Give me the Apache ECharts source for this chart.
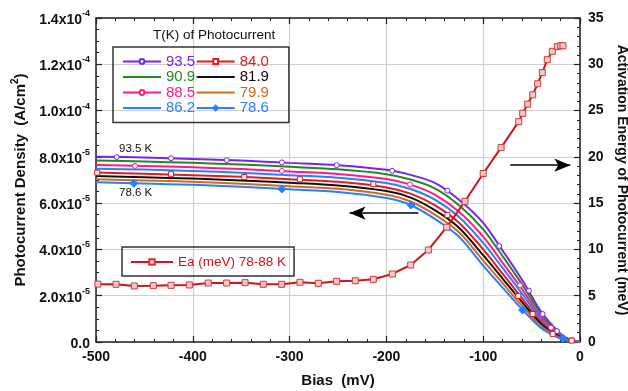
<!DOCTYPE html>
<html>
<head>
<meta charset="utf-8">
<script src="https://cdn.jsdelivr.net/npm/echarts@6/dist/echarts.min.js"></script>
<style>
  html, body { margin: 0; padding: 0; background: #fff; }
  #chart { width: 628px; height: 391px; }
</style>
</head>
<body>
<div id="chart"></div>
<script>
// bias points (mV) shared by the photocurrent curves
const bias = [-500, -450, -400, -350, -300, -250, -200, -175, -150, -125, -100, -80, -60, -40, -20, -10, 0];

// photocurrent density, in units of 1e-5 A/cm2
const j935 = [8.01, 7.97, 7.91, 7.84, 7.74, 7.64, 7.44, 7.22, 6.88, 6.15, 5.15, 3.95, 2.70, 1.30, 0.35, 0.10, 0.02];
const j909 = [7.84, 7.80, 7.74, 7.67, 7.57, 7.46, 7.25, 7.02, 6.64, 5.91, 4.87, 3.71, 2.50, 1.19, 0.32, 0.09, 0.02];
const j885 = [7.65, 7.61, 7.55, 7.47, 7.37, 7.26, 7.04, 6.80, 6.37, 5.63, 4.55, 3.43, 2.29, 1.07, 0.29, 0.08, 0.02];
const j862 = [7.49, 7.45, 7.39, 7.31, 7.21, 7.10, 6.87, 6.61, 6.15, 5.40, 4.28, 3.20, 2.10, 0.97, 0.26, 0.08, 0.01];
const j840 = [7.32, 7.27, 7.21, 7.14, 7.03, 6.92, 6.68, 6.41, 5.91, 5.15, 4.00, 2.95, 1.90, 0.86, 0.23, 0.07, 0.01];
const j819 = [7.17, 7.12, 7.06, 6.98, 6.88, 6.76, 6.52, 6.24, 5.70, 4.94, 3.75, 2.74, 1.73, 0.77, 0.20, 0.06, 0.01];
const j799 = [7.03, 6.98, 6.92, 6.84, 6.73, 6.62, 6.36, 6.07, 5.50, 4.74, 3.52, 2.54, 1.57, 0.68, 0.17, 0.06, 0.01];
const j786 = [6.90, 6.85, 6.79, 6.71, 6.60, 6.48, 6.22, 5.92, 5.32, 4.55, 3.30, 2.35, 1.42, 0.60, 0.15, 0.05, 0.01];

// marker points [bias, value] on the curves that have symbols
const mk935 = [[-478.6, 7.99], [-422.5, 7.94], [-365, 7.86], [-308, 7.76], [-251.4, 7.64], [-194, 7.40],
  [-137, 6.54], [-83.5, 4.15], [-52.7, 2.22], [-38.6, 1.21], [-23.8, 0.47], [-8.5, 0.08]];
const mk885 = [[-459.7, 7.61], [-308, 7.39], [-175.6, 6.81], [-62, 2.45], [-30, 0.62]];
const mk840 = [[-498.7, 7.32], [-422.5, 7.25], [-346.8, 7.13], [-289.3, 7.03], [-213.5, 6.82], [-137, 5.49],
  [-63.7, 1.99], [-48.9, 1.21], [-28.2, 0.35], [-8.6, 0.06]];
const mk786 = [[-461, 6.86], [-308, 6.61], [-174.6, 5.92], [-59.3, 1.38], [-17.6, 0.16]];

// activation energy (meV)
const eaBias = [-498, -479.3, -460.4, -440.8, -422.5, -403.6, -384, -365, -346, -327.2, -308.2, -289.3, -270.3,
  -251.4, -232.1, -213.5, -193.9, -174.9, -156.7, -137.7, -118.8, -100, -81.5, -63.3, -59.2, -54, -48.9,
  -43.7, -38.9, -33.8, -28.6, -23.4, -20, -17.6];
const eaVal = [6.25, 6.23, 6.05, 6.08, 6.12, 6.16, 6.37, 6.37, 6.41, 6.23, 6.23, 6.45, 6.34,
  6.56, 6.62, 6.77, 7.35, 8.32, 9.94, 12.4, 15.2, 18.2, 21.0, 23.8, 24.7, 25.7, 26.7,
  27.9, 29.1, 30.5, 31.4, 31.9, 32.0, 32.0];

const leftTicks = ['0.0', '2.0x10|-5', '4.0x10|-5', '6.0x10|-5', '8.0x10|-5', '1.0x10|-4', '1.2x10|-4', '1.4x10|-4'];
const eaName = 'Ea (meV) 78-88 K';

const FONT = '"Liberation Sans", Arial, sans-serif';

const curves = [
  { name: '93.5', color: '#7B22F2', vals: j935, marks: mk935, symbol: 'circle', size: 5, fill: '#ffffff' },
  { name: '90.9', color: '#1E8B22', vals: j909 },
  { name: '88.5', color: '#FF1A8C', vals: j885, marks: mk885, symbol: 'circle', size: 5, fill: '#ffffff' },
  { name: '86.2', color: '#2A7FFF', vals: j862 },
  { name: '84.0', color: '#E5191E', vals: j840, marks: mk840, symbol: 'rect', size: 5, fill: '#ffffff' },
  { name: '81.9', color: '#111111', vals: j819 },
  { name: '79.9', color: '#D2691E', vals: j799 },
  { name: '78.6', color: '#2A7FFF', vals: j786, marks: mk786, symbol: 'diamond', size: 8, fill: '#2A7FFF' },
];

const series = [];
curves.forEach((c, k) => {
  series.push({
    type: 'line',
    name: c.name,
    data: bias.map((b, i) => [b, c.vals[i]]),
    smooth: 0.3,
    showSymbol: false,
    symbol: c.symbol || 'none',
    symbolSize: c.size || 4,
    lineStyle: { width: 2, color: c.color },
    itemStyle: { color: c.fill || c.color, borderColor: c.color, borderWidth: 1 },
    z: 3 + k * 0.01,
  });
  if (c.marks) {
    series.push({
      type: 'scatter',
      name: c.name,
      data: c.marks,
      symbol: c.symbol,
      symbolSize: c.size,
      itemStyle: { color: c.fill, borderColor: c.color, borderWidth: 1, opacity: 1 },
      z: 4,
    });
  }
});

// left arrow pointing at the photocurrent axis
series[0].markLine = {
  silent: true,
  symbol: ['none', 'arrow'],
  symbolSize: [10, 16],
  label: { show: false },
  lineStyle: { color: '#000', width: 1.5, type: 'solid' },
  data: [[{ coord: [-167, 5.57] }, { coord: [-238, 5.57] }]],
};

series.push({
  type: 'line',
  name: eaName,
  yAxisIndex: 1,
  data: eaBias.map((b, i) => [b, eaVal[i]]),
  symbol: 'rect',
  symbolSize: 6,
  lineStyle: { width: 2, color: '#C8161D' },
  itemStyle: { color: '#F7C9C9', borderColor: '#D33A3A', borderWidth: 1 },
  z: 5,
  markLine: {
    silent: true,
    symbol: ['none', 'arrow'],
    symbolSize: [10, 16],
    label: { show: false },
    lineStyle: { color: '#000', width: 1.5, type: 'solid' },
    data: [[{ coord: [-72, 19.1] }, { coord: [-10, 19.1] }]],
  },
});

const chart = echarts.init(document.getElementById('chart'));

const op = {
  animation: false,
  backgroundColor: '#fff',
  textStyle: { fontFamily: FONT },
  title: {
    text: 'T(K) of Photocurrent',
    left: 153,
    top: 28,
    padding: 0,
    textStyle: { fontFamily: FONT, fontSize: 13.5, fontWeight: 'normal', color: '#111' },
  },
  legend: [
    {
      data: curves.map((c) => ({
        name: c.name,
        textStyle: { color: c.color },
        itemStyle: c.marks ? {} : { opacity: 0 },
      })),
      orient: 'vertical',
      left: 113,
      top: 47,
      height: 62,
      itemWidth: 38,
      itemHeight: 6,
      itemGap: 0.5,
      padding: [7, 20, 7, 9],
      borderColor: '#333',
      borderWidth: 1.5,
      selectedMode: false,
      textStyle: { fontFamily: FONT, fontSize: 15, lineHeight: 15, padding: [0, 0, 0, 0] },
    },
    {
      data: [{ name: eaName, textStyle: { color: '#C8161D' } }],
      left: 122,
      top: 247,
      itemWidth: 42,
      itemHeight: 7,
      padding: [8, 8, 7, 8],
      borderColor: '#333',
      borderWidth: 1.5,
      selectedMode: false,
      textStyle: { fontFamily: FONT, fontSize: 13.5 },
    },
  ],
  grid: { left: 96, right: 48, top: 18, bottom: 49, containLabel: false, outerBoundsMode: 'none' },
  xAxis: [
    {
      type: 'value',
      min: -500,
      max: 0,
      interval: 100,
      name: 'Bias  (mV)',
      nameLocation: 'middle',
      nameGap: 31,
      nameTextStyle: { fontFamily: FONT, fontSize: 15, fontWeight: 'bold', color: '#111' },
      axisLine: { onZero: false, lineStyle: { color: '#222', width: 1.5 } },
      axisTick: { inside: true, length: 6, lineStyle: { color: '#222', width: 1.2 } },
      minorTick: { show: true, splitNumber: 5, length: 3, lineStyle: { color: '#222', width: 1 } },
      axisLabel: { fontFamily: FONT, fontSize: 14, fontWeight: 'bold', color: '#111', margin: 8 },
      splitLine: { show: true, lineStyle: { color: '#cfcfcf', width: 1.2 } },
    },
    {
      type: 'value',
      position: 'top',
      min: -500,
      max: 0,
      interval: 100,
      axisLine: { onZero: false, lineStyle: { color: '#222', width: 1.5 } },
      axisTick: { inside: true, length: 6, lineStyle: { color: '#222', width: 1.2 } },
      minorTick: { show: true, splitNumber: 5, length: 3, lineStyle: { color: '#222', width: 1 } },
      axisLabel: { show: false },
      splitLine: { show: false },
    },
  ],
  yAxis: [
    {
      type: 'value',
      min: 0,
      max: 14,
      interval: 2,
      name: '{a|Photocurrent Density  (A/cm}{s|2}{a|)}',
      nameLocation: 'middle',
      nameGap: 65,
      nameTextStyle: {
        color: '#111',
        rich: {
          a: { fontFamily: FONT, fontSize: 15, fontWeight: 'bold', color: '#111', lineHeight: 18, verticalAlign: 'bottom' },
          s: { fontFamily: FONT, fontSize: 10, fontWeight: 'bold', color: '#111', lineHeight: 18, verticalAlign: 'top' },
        },
      },
      axisLine: { onZero: false, lineStyle: { color: '#222', width: 1.5 } },
      axisTick: { inside: true, length: 6, lineStyle: { color: '#222', width: 1.2 } },
      minorTick: { show: true, splitNumber: 4, length: 3, lineStyle: { color: '#222', width: 1 } },
      axisLabel: {
        margin: 6,
        formatter: (v) => {
          const t = leftTicks[Math.round(v / 2)].split('|');
          return t.length > 1 ? '{m|' + t[0] + '}{e|' + t[1] + '}' : '{m|' + t[0] + '}';
        },
        rich: {
          m: { fontFamily: FONT, fontSize: 14, fontWeight: 'bold', color: '#111', lineHeight: 18, verticalAlign: 'bottom' },
          e: { fontFamily: FONT, fontSize: 9, fontWeight: 'bold', color: '#111', lineHeight: 18, verticalAlign: 'top' },
        },
      },
      splitLine: { show: true, lineStyle: { color: '#cfcfcf', width: 1.2 } },
    },
    {
      type: 'value',
      min: 0,
      max: 35,
      interval: 5,
      position: 'right',
      name: 'Activation Energy of Photocurrent (meV)',
      nameLocation: 'middle',
      nameRotate: -90,
      nameGap: 30,
      nameTextStyle: { fontFamily: FONT, fontSize: 14, fontWeight: 'bold', color: '#111' },
      axisLine: { onZero: false, lineStyle: { color: '#222', width: 1.5 } },
      axisTick: { inside: true, length: 6, lineStyle: { color: '#222', width: 1.2 } },
      minorTick: { show: true, splitNumber: 5, length: 3, lineStyle: { color: '#222', width: 1 } },
      axisLabel: { fontFamily: FONT, fontSize: 14, fontWeight: 'bold', color: '#111', margin: 8 },
      splitLine: { show: false },
    },
  ],
  graphic: [
    { type: 'text', left: 119, top: 143, style: { text: '93.5 K', font: '11.5px ' + FONT, fill: '#111' } },
    { type: 'text', left: 119, top: 187, style: { text: '78.6 K', font: '11.5px ' + FONT, fill: '#111' } },
  ],
  series: series,
};

chart.setOption(op);
</script>
</body>
</html>
